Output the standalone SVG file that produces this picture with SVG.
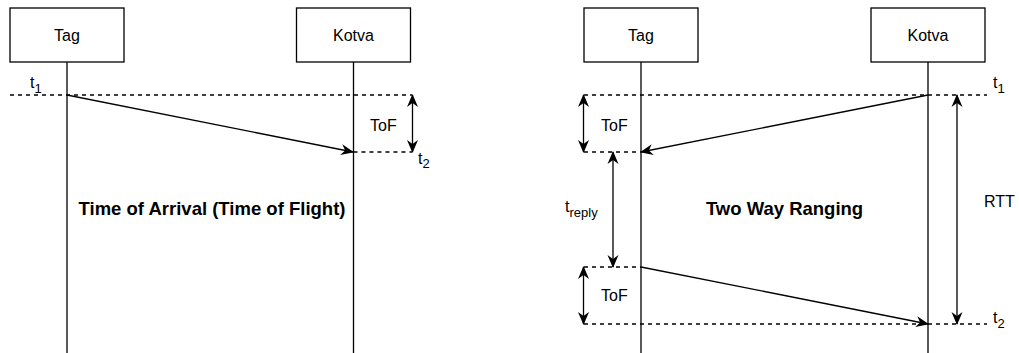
<svg xmlns="http://www.w3.org/2000/svg" width="1019" height="353" viewBox="0 0 1019 353">
<style>
  text { font-family: "Liberation Sans", Arial, Helvetica, sans-serif; fill: #000; }
  .lbl { font-size: 16px; }
  .sub { font-size: 13px; }
  .title { font-size: 18.5px; font-weight: bold; text-anchor: middle; }
  .box { fill: #fff; stroke: #000; stroke-width: 1.3; }
  .life { stroke: #000; stroke-width: 1.3; fill: none; }
  .dash { stroke: #000; stroke-width: 1.3; stroke-dasharray: 4 4; fill: none; }
  .msg { stroke: #000; stroke-width: 1.3; fill: none; marker-end: url(#arr); }
  .dbl { stroke: #000; stroke-width: 1.3; fill: none; marker-start: url(#arr); marker-end: url(#arr); }
</style>
<defs>
  <marker id="arr" markerUnits="userSpaceOnUse" viewBox="0 0 13 12" markerWidth="13" markerHeight="12" refX="12" refY="6" orient="auto-start-reverse">
    <path d="M0,0.5 L13,6 L0,11.5 L4,6 Z" fill="#000"/>
  </marker>
</defs>
<rect width="1019" height="353" fill="#fff"/>

<!-- Left diagram: Time of Arrival -->
<g id="toa-tag">
  <line class="life" x1="67" y1="62" x2="67" y2="353"/>
  <rect class="box" x="10" y="8" width="114" height="54"/>
  <text class="lbl" x="67" y="41" text-anchor="middle">Tag</text>
</g>
<g id="toa-kotva">
  <line class="life" x1="353.5" y1="62" x2="353.5" y2="353"/>
  <rect class="box" x="296.5" y="8" width="114" height="54"/>
  <text class="lbl" x="353.5" y="41" text-anchor="middle">Kotva</text>
</g>
<g id="toa-connectors">
  <line class="dash" x1="10" y1="95" x2="412" y2="95"/>
  <line class="dash" x1="353.5" y1="152" x2="412" y2="152"/>
  <line class="msg" x1="67" y1="95" x2="353" y2="152"/>
  <line class="dbl" x1="412.5" y1="95" x2="412.5" y2="152"/>
</g>
<g id="toa-labels">
  <text class="lbl" x="30" y="88">t<tspan class="sub" dy="4.5">1</tspan></text>
  <text class="lbl" x="370" y="130.5">ToF</text>
  <text class="lbl" x="418" y="163.5">t<tspan class="sub" dy="4.5">2</tspan></text>
  <text class="title" x="212" y="215">Time of Arrival (Time of Flight)</text>
</g>

<!-- Right diagram: Two Way Ranging -->
<g id="twr-tag">
  <line class="life" x1="641" y1="62" x2="641" y2="353"/>
  <rect class="box" x="584" y="8" width="114" height="54"/>
  <text class="lbl" x="641" y="41" text-anchor="middle">Tag</text>
</g>
<g id="twr-kotva">
  <line class="life" x1="928" y1="62" x2="928" y2="353"/>
  <rect class="box" x="871" y="8" width="114" height="54"/>
  <text class="lbl" x="928" y="41" text-anchor="middle">Kotva</text>
</g>
<g id="twr-connectors">
  <line class="dash" x1="584" y1="95" x2="987" y2="95"/>
  <line class="dash" x1="584" y1="152" x2="641" y2="152"/>
  <line class="dash" x1="584" y1="267" x2="641" y2="267"/>
  <line class="dash" x1="584" y1="324" x2="987" y2="324"/>
  <line class="msg" x1="928" y1="95" x2="641" y2="152"/>
  <line class="msg" x1="641" y1="267" x2="928" y2="324"/>
  <line class="dbl" x1="583.5" y1="95" x2="583.5" y2="152"/>
  <line class="dbl" x1="583.5" y1="267" x2="583.5" y2="324"/>
  <line class="dbl" x1="613" y1="152" x2="613" y2="267"/>
  <line class="dbl" x1="957" y1="95" x2="957" y2="324"/>
</g>
<g id="twr-labels">
  <text class="lbl" x="993" y="88">t<tspan class="sub" dy="4.5">1</tspan></text>
  <text class="lbl" x="601" y="130.5">ToF</text>
  <text class="lbl" x="565" y="211.5">t<tspan class="sub" dy="5">reply</tspan></text>
  <text class="lbl" x="984" y="206.5">RTT</text>
  <text class="lbl" x="601" y="300.5">ToF</text>
  <text class="lbl" x="993" y="323">t<tspan class="sub" dy="4.5">2</tspan></text>
  <text class="title" x="784.5" y="215">Two Way Ranging</text>
</g>
</svg>
